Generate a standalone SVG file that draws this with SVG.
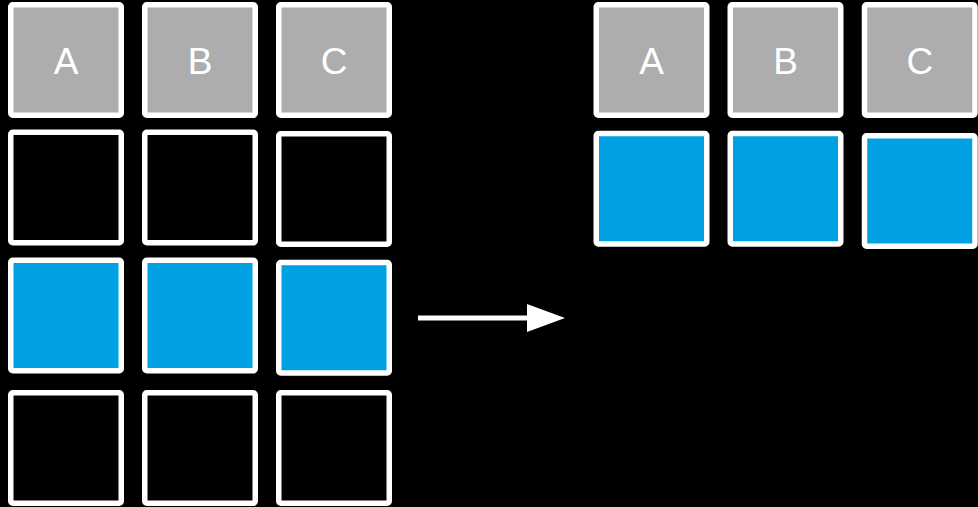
<svg xmlns="http://www.w3.org/2000/svg" width="978" height="507" viewBox="0 0 978 507">
<style>
.c{stroke:#fff;stroke-width:5.5}
.h{fill:#adadad}
.e{fill:#000}
.b{fill:#00a0e2}
.t{font-family:"Liberation Sans",Arial,sans-serif;font-size:37px;fill:#fff;text-anchor:middle}
</style>
<defs>
<marker id="ah" markerWidth="38" markerHeight="28" refX="0" refY="14" markerUnits="userSpaceOnUse" orient="auto">
<path d="M0,0 L38,14 L0,28 Z" fill="#fff"/>
</marker>
</defs>
<rect width="978" height="507" fill="#000"/>
<g id="left-A-head"><rect class="c h" x="10.75" y="4.75" width="110.5" height="110.5" rx="2"/><text class="t" x="66" y="74">A</text></g>
<g id="left-B-head"><rect class="c h" x="144.75" y="4.75" width="110.5" height="110.5" rx="2"/><text class="t" x="200" y="74">B</text></g>
<g id="left-C-head"><rect class="c h" x="278.75" y="4.75" width="110.5" height="110.5" rx="2"/><text class="t" x="334" y="74">C</text></g>
<g id="left-A-1"><rect class="c e" x="10.75" y="132.25" width="110.5" height="110.5" rx="2"/></g>
<g id="left-B-1"><rect class="c e" x="144.75" y="132.25" width="110.5" height="110.5" rx="2"/></g>
<g id="left-C-1"><rect class="c e" x="278.75" y="133.75" width="110.5" height="110.5" rx="2"/></g>
<g id="left-A-2"><rect class="c b" x="10.75" y="260.25" width="110.5" height="110.5" rx="2"/></g>
<g id="left-B-2"><rect class="c b" x="144.75" y="260.25" width="110.5" height="110.5" rx="2"/></g>
<g id="left-C-2"><rect class="c b" x="278.75" y="262.5" width="110.5" height="110.5" rx="2"/></g>
<g id="left-A-3"><rect class="c e" x="10.75" y="392.75" width="110.5" height="110.5" rx="2"/></g>
<g id="left-B-3"><rect class="c e" x="144.75" y="392.75" width="110.5" height="110.5" rx="2"/></g>
<g id="left-C-3"><rect class="c e" x="278.75" y="392.75" width="110.5" height="110.5" rx="2"/></g>
<g id="right-A-head"><rect class="c h" x="596.25" y="4.75" width="110.5" height="110.5" rx="2"/><text class="t" x="651.5" y="74">A</text></g>
<g id="right-B-head"><rect class="c h" x="730.25" y="4.75" width="110.5" height="110.5" rx="2"/><text class="t" x="785.5" y="74">B</text></g>
<g id="right-C-head"><rect class="c h" x="864.5" y="4.75" width="110.5" height="110.5" rx="2"/><text class="t" x="919.75" y="74">C</text></g>
<g id="right-A-1"><rect class="c b" x="596.25" y="133.5" width="110.5" height="110.5" rx="2"/></g>
<g id="right-B-1"><rect class="c b" x="730.25" y="133.5" width="110.5" height="110.5" rx="2"/></g>
<g id="right-C-1"><rect class="c b" x="864.5" y="135.75" width="110.5" height="110.5" rx="2"/></g>
<g id="connectors">
<line x1="418" y1="318" x2="527" y2="318" stroke="#fff" stroke-width="5" marker-end="url(#ah)"/>
</g>
</svg>
